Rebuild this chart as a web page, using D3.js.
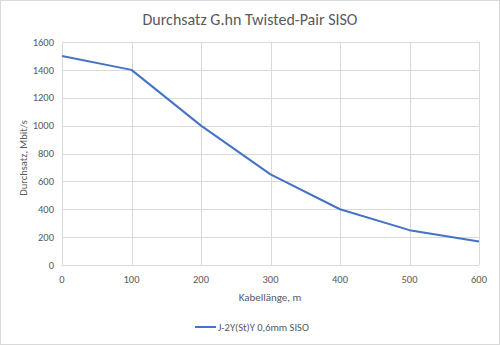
<!DOCTYPE html>
<html><head><meta charset="utf-8">
<script src="https://cdn.jsdelivr.net/npm/d3@7"></script>
<style>body{margin:0;background:#fff}svg{display:block;font-family:Calibri,Carlito,"Liberation Sans",Arial,sans-serif}</style>
</head><body><svg id="c" width="500" height="345"></svg>
<script>
const lengths = [0, 100, 200, 300, 400, 500, 600];
const throughput = [1500, 1400, 1000, 650, 400, 250, 168];
const yTicks = [0, 200, 400, 600, 800, 1000, 1200, 1400, 1600];
const xTicks = [0, 100, 200, 300, 400, 500, 600];
const seriesName = "J-2Y(St)Y 0,6mm SISO";
const title = "Durchsatz G.hn Twisted-Pair SISO";

const svg = d3.select("#c");
svg.append("rect").attr("x",0.5).attr("y",0.5).attr("width",499).attr("height",344)
  .attr("fill","#fff").attr("stroke","#d9d9d9");
const L=62, R=479, T=42, B=265;
const x = d3.scaleLinear().domain([0,600]).range([L,R]);
const y = d3.scaleLinear().domain([0,1600]).range([B,T]);
const g = svg.append("g");
g.selectAll(".hg").data(yTicks).join("line").attr("x1",L).attr("x2",R)
  .attr("y1",d=>Math.round(y(d))+0.5).attr("y2",d=>Math.round(y(d))+0.5).attr("stroke","#d9d9d9");
g.selectAll(".vg").data(xTicks).join("line").attr("y1",T).attr("y2",B)
  .attr("x1",d=>Math.round(x(d))+0.5).attr("x2",d=>Math.round(x(d))+0.5).attr("stroke","#d9d9d9");
g.selectAll(".yl").data(yTicks).join("text").attr("x",L-8).attr("y",d=>y(d)).attr("dy","0.35em")
  .attr("text-anchor","end").attr("font-size",10.5).attr("fill","#595959").text(d=>d);
g.selectAll(".xl").data(xTicks).join("text").attr("x",d=>x(d)).attr("y",B+14).attr("dy","0.35em")
  .attr("text-anchor","middle").attr("font-size",10.5).attr("fill","#595959").text(d=>d);
const data = lengths.map((d,i)=>[d,throughput[i]]);
svg.append("path").datum(data).attr("fill","none").attr("stroke","#4472c4").attr("stroke-width",2)
  .attr("stroke-linejoin","round").attr("d",d3.line().x(d=>x(d[0])).y(d=>y(d[1])));
svg.append("text").attr("x",250).attr("y",25).attr("text-anchor","middle").attr("font-size",16)
  .attr("fill","#595959").text(title);
svg.append("text").attr("x",270).attr("y",297).attr("dy","0.35em").attr("text-anchor","middle").attr("font-size",11)
  .attr("fill","#595959").text("Kabellänge, m");
svg.append("text").attr("transform","translate(23,158) rotate(-90)").attr("dy","0.35em").attr("text-anchor","middle")
  .attr("font-size",10.5).attr("fill","#595959").text("Durchsatz, Mbit/s");
svg.append("line").attr("x1",195).attr("x2",216).attr("y1",327).attr("y2",327).attr("stroke","#4472c4").attr("stroke-width",2);
svg.append("text").attr("x",218).attr("y",327).attr("dy","0.35em").attr("font-size",10.5).attr("fill","#595959").text(seriesName);
</script></body></html>
